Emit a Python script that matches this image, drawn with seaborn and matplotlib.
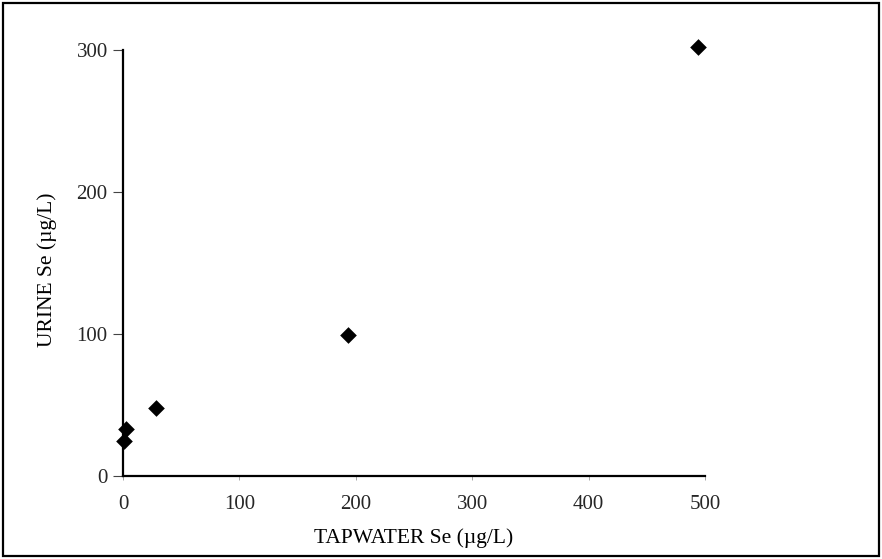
import matplotlib
matplotlib.use("Agg")
import matplotlib.pyplot as plt
from matplotlib.patches import Rectangle
import seaborn as sns
import pandas as pd

# Selenium in tap water vs. urine (µg/L)
tapwater_se = [1, 3, 28, 193, 494]
urine_se = [25, 33, 48, 99, 302]
x_ticks = [0, 100, 200, 300, 400, 500]
y_ticks = [0, 100, 200, 300]

df = pd.DataFrame({"tapwater": tapwater_se, "urine": urine_se})

sns.set_theme(style="white")
plt.rcParams["font.family"] = ["Liberation Serif", "DejaVu Serif"]

fig = plt.figure(figsize=(8.82, 5.59), dpi=100)
ax = fig.add_axes([123 / 882, 1 - 476 / 559, 582 / 882, 426 / 559])

sns.scatterplot(data=df, x="tapwater", y="urine", marker="D", s=72,
                color="black", linewidth=0, ax=ax, clip_on=False, zorder=5)

ax.set_xlim(0, 500)
ax.set_ylim(0, 300)
ax.set_xticks(x_ticks)
ax.set_yticks(y_ticks)
ax.tick_params(axis="y", direction="out", length=7, width=0.8, color="#444444",
               labelsize=15, pad=4, left=True)
ax.tick_params(axis="x", direction="out", length=3, width=0.6, color="#999999",
               labelsize=15, pad=10.5, bottom=True)

for side in ("top", "right"):
    ax.spines[side].set_visible(False)
for side in ("left", "bottom"):
    ax.spines[side].set_color("black")
    ax.spines[side].set_linewidth(1.6)

ax.set_xlabel("TAPWATER Se (\u00b5g/L)", fontsize=15.5, color="black")
ax.set_ylabel("URINE Se (\u00b5g/L)", fontsize=15.5, color="black")
ax.xaxis.set_label_coords(0.5, -0.122)
ax.yaxis.set_label_coords(-0.113, 0.484)

# Frame around the whole figure
fig.patches.append(Rectangle((3 / 882, 3 / 559), 876 / 882, 553 / 559,
                             transform=fig.transFigure, fill=False,
                             edgecolor="black", linewidth=1.6))

fig.savefig("out.png", dpi=100)
